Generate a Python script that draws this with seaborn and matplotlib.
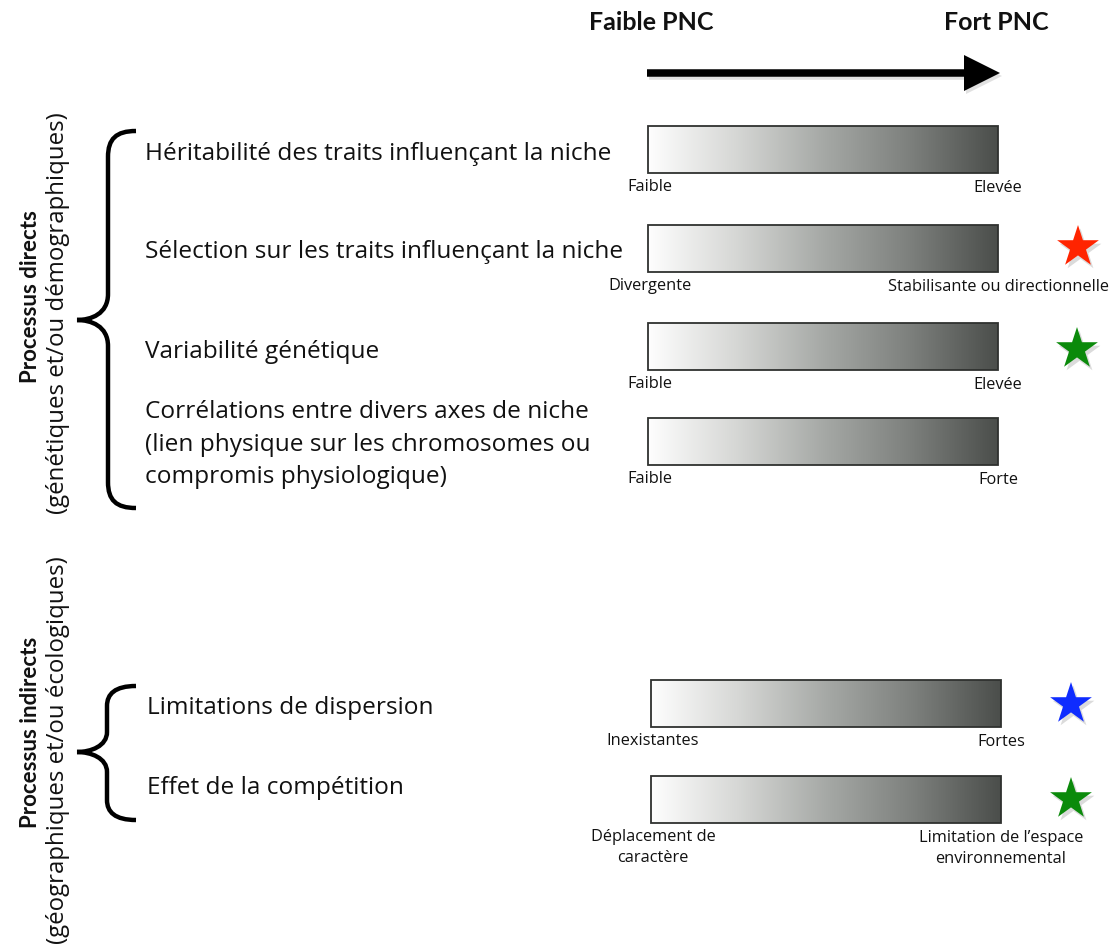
import numpy as np
import matplotlib
matplotlib.use("Agg")
import matplotlib.pyplot as plt
import seaborn as sns
from matplotlib.colors import LinearSegmentedColormap
from matplotlib.path import Path
from matplotlib.patches import PathPatch, Rectangle, FancyArrow

# ---------------- data ----------------
header_low = "Faible PNC"
header_high = "Fort PNC"

items = [
    "Héritabilité des traits influençant la niche",
    "Sélection sur les traits influençant la niche",
    "Variabilité génétique",
    "Corrélations entre divers axes de niche\n(lien physique sur les chromosomes ou\ncompromis physiologique)",
    "Limitations de dispersion",
    "Effet de la compétition",
]
low_labels = ["Faible", "Divergente", "Faible", "Faible", "Inexistantes",
              "Déplacement de\ncaractère"]
high_labels = ["Elevée", "Stabilisante ou directionnelle", "Elevée", "Forte",
               "Fortes", "Limitation de l’espace\nenvironnemental"]
star_colors = [None, "#ff2400", "#0b8a0b", None, "#0f2cff", "#0b8a0b"]

group_titles = ["Processus directs", "Processus indirects"]
group_subtitles = ["(génétiques et/ou démographiques)",
                   "(géographiques et/ou écologiques)"]

# ---------------- layout ----------------
item_x = [145, 145, 145, 145, 147, 147]
item_y = [154, 252, 352, 412, 708, 788]
bar_x0 = [648, 648, 648, 648, 651, 651]
bar_w = 350
bar_top = [126, 225, 323, 418, 680, 776]
bar_h = 47
star_xy = [None, (1078, 247), (1077, 349), None, (1071, 704), (1071, 799)]
title_y = [297, 732]
subtitle_y = [313, 750]

sns.set_theme(style="white")
plt.rcParams["font.family"] = ["Open Sans", "DejaVu Sans"]
bold_family = ["Lato", "DejaVu Sans"]

fig = plt.figure(figsize=(11.14, 9.46), dpi=100)
ax = fig.add_axes([0, 0, 1, 1])

cmap = LinearSegmentedColormap.from_list(
    "pnc", ["#fefefe", "#d6d7d5", "#a6a9a6", "#7d807d", "#4b4e4b"])
grad = np.linspace(0, 1, 256).reshape(1, -1)

# header
for txt, xc in [(header_low, 651), (header_high, 996)]:
    ax.text(xc, 22, txt, ha="center", va="center", fontsize=18,
            fontweight="bold", color="#111111", family=bold_family)
ax.add_patch(FancyArrow(649, 76, 353, 0, width=7.5, head_width=36,
                        head_length=36, length_includes_head=True,
                        color="#777777", alpha=0.22, lw=0))
ax.add_patch(FancyArrow(647, 73, 353, 0, width=7.5, head_width=36,
                        head_length=36, length_includes_head=True,
                        color="black", lw=0))

# items, bars, labels
for i, txt in enumerate(items):
    for k, line in enumerate(txt.split("\n")):
        ax.text(item_x[i], item_y[i] + k * 32.5, line, ha="left", va="center",
                fontsize=17.6, color="#111111")
    x0, y0 = bar_x0[i], bar_top[i]
    ax.imshow(grad, cmap=cmap, aspect="auto", interpolation="bicubic",
              extent=(x0, x0 + bar_w, y0 + bar_h, y0), zorder=2)
    ax.add_patch(Rectangle((x0, y0), bar_w, bar_h, fill=False,
                           edgecolor="#2f312f", lw=1.3, zorder=3))
    for k, line in enumerate(low_labels[i].split("\n")):
        ax.text(x0 + 2, y0 + bar_h + 14 + k * 21, line, ha="center",
                va="center", fontsize=11.8, color="#111111")
    for k, line in enumerate(high_labels[i].split("\n")):
        ax.text(x0 + bar_w, y0 + bar_h + 15 + k * 21, line, ha="center",
                va="center", fontsize=11.8, color="#111111")

ax.set_xlim(0, 1114)
ax.set_ylim(946, 0)

# stars
sx = [p[0] for p in star_xy if p is not None]
sy = [p[1] for p in star_xy if p is not None]
sc = [c for c in star_colors if c is not None]
sns.scatterplot(x=[v + 2 for v in sx], y=[v + 3 for v in sy], ax=ax,
                color="#888888", alpha=0.3, marker="*", s=1000,
                linewidth=0, legend=False, zorder=4)
sns.scatterplot(x=sx, y=sy, hue=list(range(len(sc))), palette=sc, ax=ax,
                marker="*", s=1000, linewidth=0, legend=False, zorder=5)

# braces
def brace(x_end, x_stem, x_tip, y_top, y_bot, y_mid, r=22):
    verts = [
        (x_end, y_top),
        (x_stem + 8, y_top), (x_stem, y_top + 8), (x_stem, y_top + r),
        (x_stem, y_mid - r),
        (x_stem, y_mid - 6), (x_tip + 14, y_mid), (x_tip, y_mid),
        (x_tip + 14, y_mid), (x_stem, y_mid + 6), (x_stem, y_mid + r),
        (x_stem, y_bot - r),
        (x_stem, y_bot - 8), (x_stem + 8, y_bot), (x_end, y_bot),
    ]
    codes = [Path.MOVETO,
             Path.CURVE4, Path.CURVE4, Path.CURVE4,
             Path.LINETO,
             Path.CURVE4, Path.CURVE4, Path.CURVE4,
             Path.CURVE4, Path.CURVE4, Path.CURVE4,
             Path.LINETO,
             Path.CURVE4, Path.CURVE4, Path.CURVE4]
    ax.add_patch(PathPatch(Path(verts, codes), fill=False, lw=3.2,
                           edgecolor="black", capstyle="butt"))

brace(136, 108, 77, 131, 508, 320, r=26)
brace(136, 107, 77, 686, 820, 752, r=20)

# group labels (vertical)
for g in range(2):
    ax.text(31, title_y[g], group_titles[g], rotation=90, ha="center",
            va="center", fontsize=16, fontweight="bold", color="#111111",
            family=bold_family)
    ax.text(58, subtitle_y[g], group_subtitles[g], rotation=90, ha="center",
            va="center", fontsize=17.3, color="#111111")

ax.axis("off")
fig.savefig("out.png", dpi=100, facecolor="white")
